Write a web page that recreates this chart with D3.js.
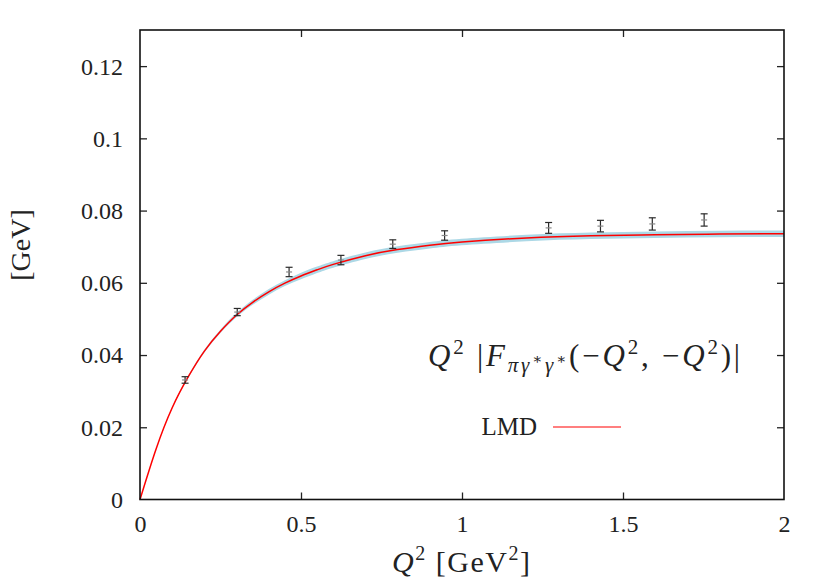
<!DOCTYPE html>
<html><head><meta charset="utf-8">
<script src="https://cdn.jsdelivr.net/npm/d3@7"></script>
<style>body{margin:0;background:#fff}svg{display:block}text{font-family:"Liberation Serif","DejaVu Serif",serif;fill:#222}</style>
</head><body><svg id="c" width="830" height="581"></svg>
<script>
// LMD curve
const curveQ2 = [0,0.05,0.1,0.15,0.2,0.25,0.3,0.35,0.4,0.45,0.5,0.55,0.6,0.7,0.8,0.9,1.0,1.2,1.4,1.6,1.8,2.0];
const curveVal = [0,0.0140,0.0254,0.0340,0.0411,0.0466,0.0511,0.0546,0.0575,0.0599,0.0619,0.0636,0.0651,0.0675,0.0692,0.0704,0.0713,0.0724,0.0730,0.0733,0.0735,0.0736];
const bandLow = [0,0.0139,0.0252,0.0337,0.0407,0.0461,0.0505,0.0539,0.0567,0.0591,0.0610,0.0627,0.0642,0.0666,0.0683,0.0695,0.0704,0.0715,0.0721,0.0724,0.0726,0.0727];
const bandHigh = [0,0.0141,0.0256,0.0343,0.0415,0.0471,0.0517,0.0553,0.0583,0.0607,0.0628,0.0645,0.0660,0.0684,0.0701,0.0713,0.0722,0.0733,0.0739,0.0742,0.0744,0.0745];
// Lattice data points
const ptQ2 = [0.140,0.302,0.463,0.624,0.785,0.946,1.269,1.430,1.591,1.752];
const ptVal = [0.0331,0.0519,0.0630,0.0663,0.0707,0.0731,0.0752,0.0757,0.0763,0.0774];
const ptErr = [0.0009,0.0010,0.0013,0.0013,0.0012,0.0013,0.0015,0.0016,0.0017,0.0017];
const xTicks = [0,0.5,1,1.5,2];
const xTickLabels = ["0","0.5","1","1.5","2"];
const yTicks = [0,0.02,0.04,0.06,0.08,0.1,0.12];
const yTickLabels = ["0","0.02","0.04","0.06","0.08","0.1","0.12"];

const svg = d3.select("#c");
const L=140,R=784,T=30,B=499.5;
const x = d3.scaleLinear().domain([0,2]).range([L,R]);
const y = d3.scaleLinear().domain([0,0.13]).range([B,T]);

const band = d3.area().x((d,i)=>x(curveQ2[i])).y0((d,i)=>y(bandLow[i])).y1((d,i)=>y(bandHigh[i])).curve(d3.curveNatural);
svg.append("path").attr("d",band(curveQ2)).attr("fill","#acd8e6");
const line = d3.line().x((d,i)=>x(curveQ2[i])).y((d,i)=>y(curveVal[i])).curve(d3.curveNatural);
svg.append("path").attr("d",line(curveQ2)).attr("fill","none").attr("stroke","#ff0000").attr("stroke-width",1.5);

// error bars
const eb = svg.append("g").attr("stroke","#2a2a2a").attr("stroke-width",1.2);
ptQ2.forEach((q,i)=>{
  const cx=x(q), y1=y(ptVal[i]-ptErr[i]), y2=y(ptVal[i]+ptErr[i]), cy=y(ptVal[i]);
  eb.append("line").attr("x1",cx).attr("x2",cx).attr("y1",y1).attr("y2",y2);
  eb.append("line").attr("x1",cx-3.5).attr("x2",cx+3.5).attr("y1",y1).attr("y2",y1);
  eb.append("line").attr("x1",cx-3.5).attr("x2",cx+3.5).attr("y1",y2).attr("y2",y2);
  eb.append("line").attr("x1",cx-3).attr("x2",cx+3).attr("y1",cy).attr("y2",cy).attr("stroke","#888");
});

// axes
const ax = d3.axisBottom(x).tickValues(xTicks).tickSize(-7).tickFormat((d,i)=>xTickLabels[i]);
const gx = svg.append("g").attr("transform",`translate(0,${B})`).call(ax);
gx.selectAll("text").attr("dy",0).attr("y",32).style("font-size","24px").style("font-family","Liberation Serif");
const axt = d3.axisTop(x).tickValues(xTicks).tickSize(-7).tickFormat("");
svg.append("g").attr("transform",`translate(0,${T})`).call(axt);
const ay = d3.axisLeft(y).tickValues(yTicks).tickSize(-7).tickFormat((d,i)=>yTickLabels[i]);
const gy = svg.append("g").attr("transform",`translate(${L},0)`).call(ay);
gy.selectAll("text").attr("x",-17).attr("dy","0.33em").style("font-size","24px").style("font-family","Liberation Serif");
const ayr = d3.axisRight(y).tickValues(yTicks).tickSize(-7).tickFormat("");
svg.append("g").attr("transform",`translate(${R},0)`).call(ayr);
svg.selectAll(".domain").remove();
svg.selectAll(".tick line").attr("stroke","#222").attr("stroke-width",1.3);
svg.selectAll(".tick").filter(d=>d===0||d===2).select("line").remove();
svg.append("rect").attr("x",L).attr("y",T).attr("width",R-L).attr("height",B-T).attr("fill","none").attr("stroke","#111").attr("stroke-width",1.6);

// axis labels
const xl = svg.append("text").attr("x",392).attr("y",572).attr("textLength",138).attr("lengthAdjust","spacing").style("font-size","30px");
xl.append("tspan").style("font-style","italic").text("Q");
xl.append("tspan").attr("dy",-12).style("font-size","20px").text("2");
xl.append("tspan").attr("dy",12).text(" [GeV");
xl.append("tspan").attr("dy",-12).style("font-size","20px").text("2");
xl.append("tspan").attr("dy",12).text("]");
svg.append("text").attr("transform","translate(30,245) rotate(-90)").attr("text-anchor","middle").style("font-size","28px").text("[GeV]");

// annotation
const an = svg.append("text").attr("x",428).attr("y",366).attr("textLength",312).attr("lengthAdjust","spacing").style("font-size","31px");
an.append("tspan").style("font-style","italic").text("Q");
an.append("tspan").attr("dy",-12).style("font-size","21px").text("2");
an.append("tspan").attr("dy",12).text(" |");
an.append("tspan").style("font-style","italic").text("F");
an.append("tspan").attr("dy",6).style("font-size","21px").style("font-style","italic").text("πγ");
an.append("tspan").attr("dy",-8).style("font-size","15px").text("∗");
an.append("tspan").attr("dy",8).style("font-size","21px").style("font-style","italic").text("γ");
an.append("tspan").attr("dy",-8).style("font-size","15px").text("∗");
an.append("tspan").attr("dy",2).text("(−");
an.append("tspan").style("font-style","italic").text("Q");
an.append("tspan").attr("dy",-12).style("font-size","21px").text("2");
an.append("tspan").attr("dy",12).text(", −");
an.append("tspan").style("font-style","italic").text("Q");
an.append("tspan").attr("dy",-12).style("font-size","21px").text("2");
an.append("tspan").attr("dy",12).text(")|");

// legend
svg.append("text").attr("x",537).attr("y",435).attr("text-anchor","end").style("font-size","25px").text("LMD");
svg.append("line").attr("x1",553).attr("x2",621).attr("y1",427).attr("y2",427).attr("stroke","#f55").attr("stroke-width",1.5);
</script></body></html>
